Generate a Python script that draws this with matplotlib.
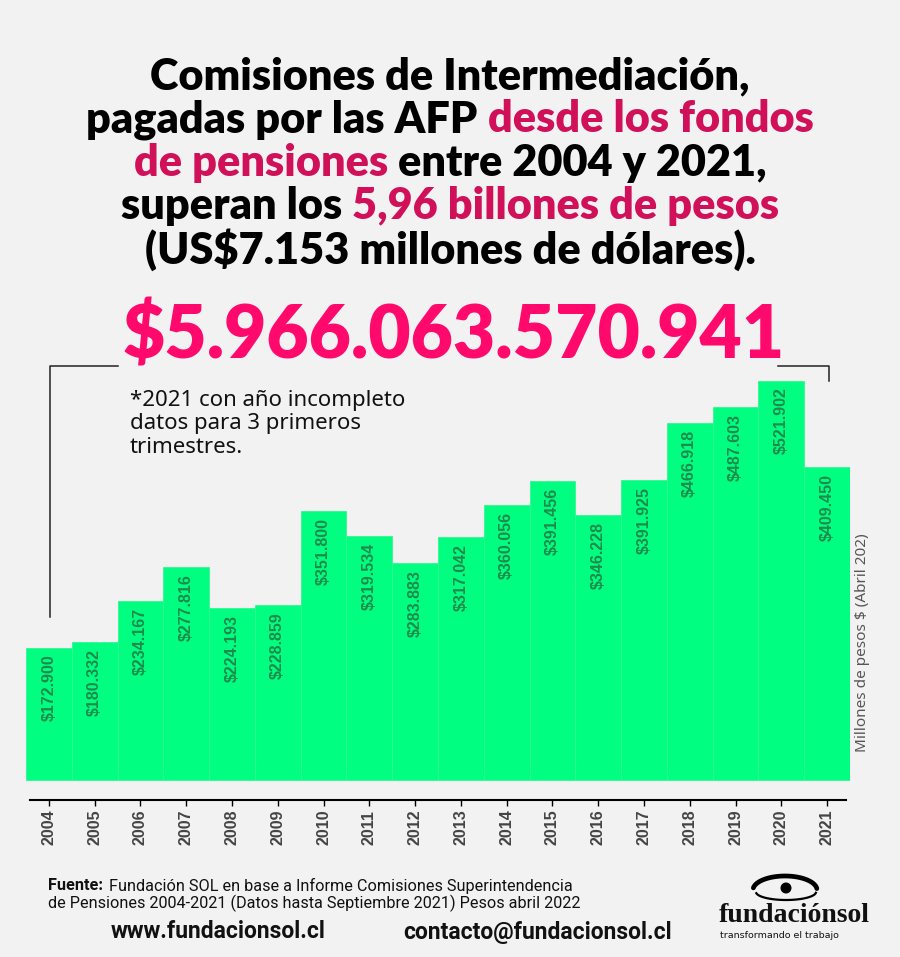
import numpy as np
import matplotlib
matplotlib.use('Agg')
import matplotlib.pyplot as plt
from matplotlib.patches import Circle
from matplotlib.lines import Line2D

years = ['2004', '2005', '2006', '2007', '2008', '2009', '2010', '2011', '2012',
         '2013', '2014', '2015', '2016', '2017', '2018', '2019', '2020', '2021']
valores = [172.900, 180.332, 234.167, 277.816, 224.193, 228.859, 351.800, 319.534,
           283.883, 317.042, 360.056, 391.456, 346.228, 391.925, 466.918, 487.603,
           521.902, 409.450]
etiquetas = ['$172.900', '$180.332', '$234.167', '$277.816', '$224.193', '$228.859',
             '$351.800', '$319.534', '$283.883', '$317.042', '$360.056', '$391.456',
             '$346.228', '$391.925', '$466.918', '$487.603', '$521.902', '$409.450']

total_txt = '$5.966.063.570.941'
titulo = [
    [('Comisiones de Intermediación,', 'k')],
    [('pagadas por las AFP ', 'k'), ('desde los fondos', 'rosa')],
    [('de pensiones', 'rosa'), (' entre 2004 y 2021,', 'k')],
    [('superan los ', 'k'), ('5,96 billones de pesos', 'rosa')],
    [('(US$7.153 millones de dólares).', 'k')],
]
nota = '*2021 con año incompleto\ndatos para 3 primeros\ntrimestres.'

W, H = 900, 957
BG = '#f2f2f2'
VERDE = '#00ff80'
ROSA_T = '#d1105a'
ROSA = '#ff0a6c'

fig = plt.figure(figsize=(W / 100, H / 100), dpi=100, facecolor=BG)
r = fig.canvas.get_renderer()


def px(x, y):
    return x / W, 1 - y / H


def ancho(s, **kw):
    t = fig.text(0, 0, s + 'x', **kw)
    t2 = fig.text(0, 0, 'x', **kw)
    w = t.get_window_extent(r).width - t2.get_window_extent(r).width
    t.remove(); t2.remove()
    return w


def linea(y, partes, x0=None, **kw):
    full = ''.join(p[0] for p in partes)
    tot = ancho(full, **kw)
    x = (W - tot) / 2 if x0 is None else x0
    pre = ''
    for s, c, *extra in partes:
        kw2 = dict(kw)
        if extra:
            kw2.update(extra[0])
        xs = x + ancho(pre, **kw) if pre else x
        fig.text(xs / W, 1 - y / H, s, color=c, va='center', ha='left', **kw2)
        pre += s


# titulo: tamaño ajustado al ancho de las lineas
tkw = dict(fontweight='heavy', family=['Lato', 'DejaVu Sans'])
tsize = 0.96 * 10 * 626 / ancho(titulo[0][0][0], fontsize=10, **tkw)
tkw['fontsize'] = tsize
for i, partes in enumerate(titulo):
    pp = [(s, ROSA_T if c == 'rosa' else '#000000') for s, c in partes]
    linea(76 + i * 43.5, pp, **tkw)

# total grande
bkw = dict(fontweight='heavy', family=['Lato', 'DejaVu Sans'])
bsize = 10 * 662 / ancho(total_txt, fontsize=10, **bkw)
fig.text(*px(454, 337), total_txt, color=ROSA, fontsize=bsize, ha='center',
         va='center', **bkw)

# grafico
ax = fig.add_axes([26 / W, 1 - 800 / H, 824 / W, (800 - 374.5) / H])
ax.set_facecolor(BG)
x = np.arange(len(years))
ax.bar(x, valores, width=1.0, color=VERDE, edgecolor='#35f592', linewidth=0.6)
for xi, v, lab in zip(x, valores, etiquetas):
    ax.text(xi, v - 9, lab, rotation=90, ha='center', va='top', color='#1f8a4c',
            fontsize=11.5, fontweight='bold', family=['Liberation Sans', 'DejaVu Sans'])
ax.set_xlim(-0.5, 17.5)
ax.set_ylim(-26.1, 530)
for s in ['top', 'right', 'left']:
    ax.spines[s].set_visible(False)
ax.spines['bottom'].set_bounds(-0.42, 17.42)
ax.spines['bottom'].set_linewidth(1.5)
ax.set_yticks([])
ax.set_xticks(x)
ax.set_xticklabels(years, rotation=90, fontsize=11.5, fontweight='bold', color='#444444',
                   family=['Liberation Sans', 'DejaVu Sans'])
ax.tick_params(axis='x', length=4, width=1, pad=3)

fig.text(*px(862, 643), 'Millones de pesos $ (Abril 202)', rotation=90, ha='center',
         va='center', fontsize=11, color='#555555', family=['Noto Sans', 'DejaVu Sans'])

# corchetes
fig.add_artist(Line2D([50 / W, 50 / W, 118 / W], [1 - 617 / H, 1 - 366 / H, 1 - 366 / H],
                      color='#222222', lw=1.1))
fig.add_artist(Line2D([778 / W, 829 / W, 829 / W], [1 - 366 / H, 1 - 366 / H, 1 - 381 / H],
                      color='#222222', lw=1.1))

fig.text(*px(130, 424), nota, fontsize=16, color='#111111', ha='left', va='center',
         linespacing=1.15, family=['Noto Sans', 'DejaVu Sans'])

# pie
fkw = dict(fontsize=11.7, family=['Liberation Sans Narrow', 'Roboto', 'DejaVu Sans'])
linea(886, [('Fuente:', '#111111', {'fontweight': 'bold'}),
            ('  Fundación SOL en base a Informe Comisiones Superintendencia', '#111111')],
      x0=48, **fkw)
fig.text(*px(48, 903), 'de Pensiones 2004-2021 (Datos hasta Septiembre 2021) Pesos abril 2022',
         color='#111111', va='center', ha='left', **fkw)
fig.text(*px(218, 932), 'www.fundacionsol.cl', fontsize=16.5, fontweight='bold', ha='center',
         va='center', color='#111111', family=['Roboto', 'DejaVu Sans'])
fig.text(*px(538, 932), 'contacto@fundacionsol.cl', fontsize=16.5, fontweight='bold',
         ha='center', va='center', color='#111111', family=['Roboto', 'DejaVu Sans'])

# logo
lg = fig.add_axes([750 / W, 1 - 904 / H, 70 / W, 34 / H])
lg.set_xlim(0, 70); lg.set_ylim(0, 34); lg.axis('off')
t = np.linspace(0.15, np.pi - 0.1, 60)
lg.plot(35 - 32 * np.cos(t), 14 + 14 * np.sin(t), color='k', lw=3.4, solid_capstyle='round')
lg.plot(36 - 30 * np.cos(t), 12 - 8 * np.sin(t), color='k', lw=1.6)
lg.add_patch(Circle((36, 16), 4.8, color='k'))
fig.text(*px(794, 916), 'fundaciónsol', fontsize=20, fontweight='bold', ha='center',
         va='center', color='#111111', family=['Liberation Serif', 'DejaVu Serif'])
fig.text(*px(720, 935), 'transformando el trabajo', fontsize=6.8, ha='left', va='center',
         color='#111111', family=['Liberation Sans Narrow', 'DejaVu Sans'])

fig.savefig('out.png', dpi=100, facecolor=BG)
